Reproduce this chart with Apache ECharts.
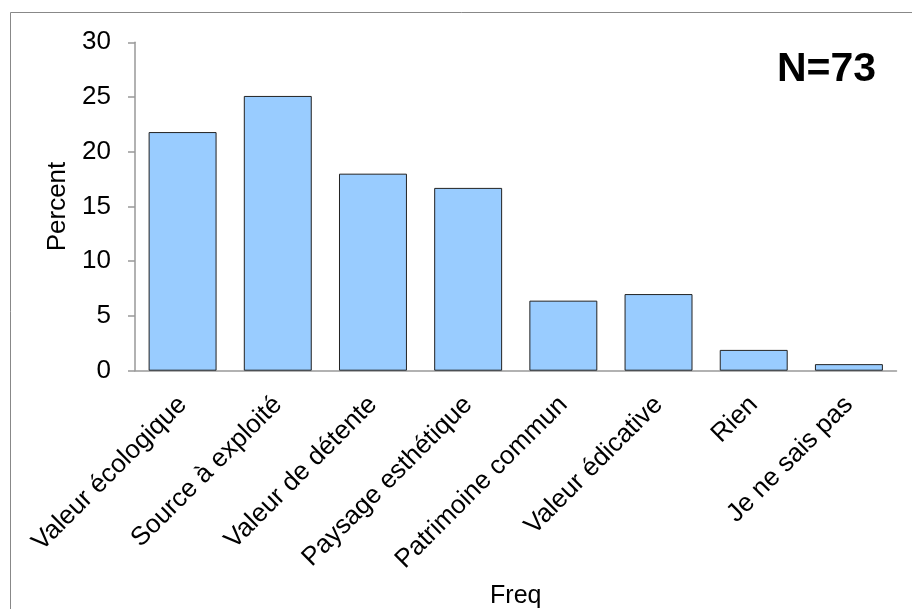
<!DOCTYPE html>
<html>
<head>
<meta charset="utf-8">
<script src="https://cdn.jsdelivr.net/npm/echarts@6/dist/echarts.min.js"></script>
<style>
html,body{margin:0;padding:0;background:#fff;overflow:hidden;}
#chart{width:912px;height:609px;}
</style>
</head>
<body>
<div id="chart"></div>
<script>
const categories = ["Valeur écologique","Source à exploité","Valeur de détente","Paysage esthétique","Patrimoine commun","Valeur édicative","Rien","Je ne sais pas"];
const percentValues = [21.8, 25.1, 18.0, 16.7, 6.4, 7.0, 1.9, 0.6];
const yTicks = [0, 5, 10, 15, 20, 25, 30];
const annotation = "N=73";

const FONT = "'Liberation Sans', Arial, sans-serif";
const chart = echarts.init(document.getElementById('chart'), null, {renderer:'canvas', width:912, height:609});
chart.setOption({
  animation:false,
  backgroundColor:'#fff',
  graphic:[
    {type:'rect', shape:{x:10.5,y:12.5,width:910,height:610}, style:{fill:null, stroke:'#888', lineWidth:1}, silent:true},
    {type:'text', left:777, top:49, style:{text:annotation, font:"bold 41px "+FONT, fill:'#000'}}
  ],
  grid:{left:135, width:761.5, top:42.3, height:328.4, containLabel:false, outerBoundsMode:'none'},
  xAxis:{
    type:'category', data:categories,
    name:'Freq', nameLocation:'middle', nameGap:213,
    nameTextStyle:{fontFamily:FONT, fontSize:25, color:'#000'},
    axisLine:{lineStyle:{color:'#999', width:1.5}},
    axisTick:{show:false},
    axisLabel:{rotate:45, interval:0, margin:30, fontFamily:FONT, fontSize:26, color:'#000'}
  },
  yAxis:{
    type:'value', min:yTicks[0], max:yTicks[yTicks.length-1], interval:5,
    name:'Percent', nameLocation:'middle', nameGap:64, nameRotate:90,
    nameTextStyle:{fontFamily:FONT, fontSize:26, color:'#000'},
    axisLine:{show:true, lineStyle:{color:'#999', width:1.5}},
    axisTick:{show:true, length:7, lineStyle:{color:'#999', width:1.5}},
    axisLabel:{margin:24, fontFamily:FONT, fontSize:26, color:'#000'},
    splitLine:{show:false}
  },
  series:[{
    type:'bar', data:percentValues, barCategoryGap:'28.6%',
    itemStyle:{color:'#99CCFF', borderColor:'#222', borderWidth:1}
  }]
});
</script>
</body>
</html>
